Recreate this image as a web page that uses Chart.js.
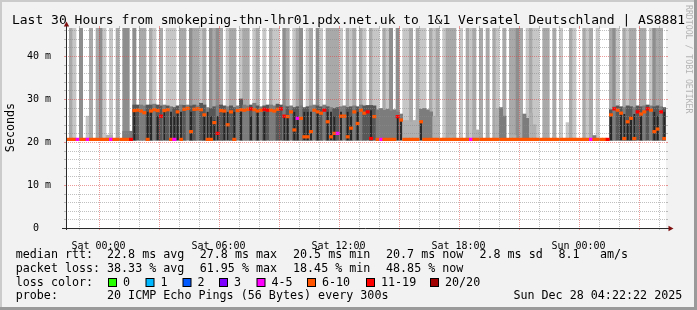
<!DOCTYPE html>
<html>
<head>
<meta charset="utf-8">
<title>SmokePing - 1&amp;1 Versatel Deutschland</title>
<script src="https://cdn.jsdelivr.net/npm/chart.js@4.4.1/dist/chart.umd.min.js"></script>
<style>
  html, body { margin: 0; padding: 0; background: #f2f2f2; }
  #wrap { width: 697px; height: 310px; }
</style>
</head>
<body>
<div id="wrap"><canvas id="smoke" width="697" height="310"></canvas></div>
<script>
/* SmokePing style graph: last 30 hours, one column = 10 minutes */

const BIN_MIN = 10;
const SPAN_H = 30;          // hours on the x axis (Fri 22:22 -> Sun 04:22)
const Y_MAX = 46.5;         // ms at the top of the plot
const SMOKE_LOW = 20.4;     // fastest pings, bottom of the smoke

const tickHours  = [1.627, 7.627, 13.627, 19.627, 25.627];
const tickLabels = ['Sat 00:00', 'Sat 06:00', 'Sat 12:00', 'Sat 18:00', 'Sun 00:00'];
const firstGridHour = 0.627; // Fri 23:00

// outer smoke: tall stripes (50 = past the top of the plot, 0 = none)
const stripeTop = [
  0,50,50,0,50,0,26,50,0,50, 50,50,0,50,0,50,0,50,50,0, 50,0,50,50,0,50,50,0,50,0,
  50,50,50,0,50,50,0,50,50,50, 50,50,0,50,50,50,50,0,50,50, 50,0,50,50,50,0,50,50,0,50,
  0,50,50,50,0,50,50,0,50,50, 50,0,50,50,0,50,50,0,50,50, 50,50,50,0,50,50,50,0,50,50,
  0,50,50,50,0,50,50,50,0,50, 0,50,50,50,0,50,50,50,0,50, 50,50,0,50,50,50,50,0,50,0,
  50,50,50,0,50,0,50,0,50,50, 0,50,0,50,50,50,50,0,50,50, 50,50,0,50,50,0,50,0,50,0,
  24.5,50,50,0,0,50,50,50,0,50, 0,0,0,50,50,50,0,50,50,50, 50,0,50,50,0,50,50,50,50,0
];
// how many pings are up there: 1 few, 2 some, 3 many
const stripeShade = [
  0,2,1,0,3,0,1,2,0,2, 3,1,0,1,0,2,0,3,3,0, 3,0,2,2,0,2,1,0,2,0,
  1,1,1,0,2,2,0,3,2,2, 1,2,0,3,2,3,2,0,1,2, 2,0,1,2,2,0,1,2,0,1,
  0,2,1,1,0,3,2,0,1,2, 3,0,1,2,0,3,1,0,2,2, 2,2,1,0,2,1,2,0,2,1,
  0,2,1,1,0,2,1,3,0,3, 0,1,1,2,0,2,1,1,0,2, 1,2,0,1,2,2,2,0,1,0,
  2,1,2,0,2,0,2,0,2,1, 0,2,0,2,2,3,2,0,1,2, 1,1,0,2,2,0,2,0,1,0,
  1,2,1,0,0,2,1,2,0,1, 0,0,0,2,3,1,0,2,1,2, 2,0,2,2,0,1,3,2,2,0
];
// inner smoke band around the median
const bandTop = [
  0,0,0,0,0,0,0,0,0,0, 0,0,21.6,21.6,0,0,0,22.5,22.5,22.5, 28.6,28.6,28.6,28.4,28.6,28.6,28.8,28.6,28.4,28.6,
  28.4,28.2,28.0,28.4,28.6,28.5,28.6,28.4,28.6,28.4, 29.0,28.6,28.0,27.8,28.2,28.4,28.6,28.4,28.2,28.4, 28.0,28.4,30.0,28.6,28.4,28.6,29.0,28.4,28.2,28.4,
  28.6,28.6,28.4,28.8,28.6,28.4,28.2,28.4,28.0,28.2, 28.4,28.0,28.2,28.4,28.6,28.4,28.2,28.6,28.2,28.0, 27.8,28.0,28.2,28.4,28.0,28.2,28.4,28.2,28.6,28.4,
  28.5,28.5,28.4,27.5,27.8,27.4,27.6,27.2,27.5,27.0, 26.5,25.0,25.0,24.6,25.0,25.2,27.6,27.8,27.5,27.0, 26.0,26.0,0,0,0,21.5,0,0,0,0,
  0,0,22.8,22.8,0,0,0,0,0,27.8, 28.0,26.0,0,21.5,21.5,0,0,26.5,25.5,26.7, 24.0,0,0,0,0,0,21.2,0,0,0,
  0,0,0,0,0,0,0,0,21.5,0, 0,0,0,27.5,28.2,28.4,28.2,28.0,28.4,28.2, 28.0,28.4,28.2,28.4,28.6,28.4,28.2,28.4,28.2,28.0
];
const bandShade = [
  0,0,0,0,0,0,0,0,0,0, 0,0,1,1,0,0,0,2,2,2, 3,3,2,2,3,3,2,3,3,2,
  3,2,3,3,2,3,2,3,3,2, 3,3,2,3,3,2,3,3,2,3, 3,2,3,2,2,3,2,3,2,3,
  3,2,2,3,3,2,3,2,3,3, 2,3,3,2,2,3,3,2,3,2, 3,3,2,2,3,3,2,3,2,3,
  3,3,3,2,2,2,2,2,2,2, 2,1,1,1,1,1,2,2,2,2, 1,1,0,0,0,1,0,0,0,0,
  0,0,1,1,0,0,0,0,0,1, 2,2,0,1,1,0,0,2,2,1, 1,0,0,0,0,0,1,0,0,0,
  0,0,0,0,0,0,0,0,2,0, 0,0,0,3,2,3,3,2,3,3, 2,3,3,2,3,2,3,3,2,3
];
// darkest smoke core where the pings split between the two paths
const coreTop = [
  0,0,0,0,0,0,0,0,0,0, 0,0,0,0,0,0,0,0,0,0, 27.3,0,0,0,27.0,27.0,0,26.0,0,27.0,
  0,27,26,27,27,0,0,27,0,0, 0,26,27,26,25,26,0,27,27,0, 27,0,27,0,0,26,0,27,0,27,
  0,0,0,0,0,26,26,0,27,26, 0,27,27,27,0,27,0,0,27,27, 26,0,27,0,27,26,0,27,0,0,
  0,27.4,0,0,0,0,0,0,0,25.9, 25.0,0,0,0,0,0,24.7,0,0,0, 0,0,0,0,0,0,0,0,0,0,
  0,0,0,0,0,0,0,0,0,0, 0,0,0,0,0,0,0,0,0,0, 0,0,0,0,0,0,0,0,0,0,
  0,0,0,0,0,0,0,0,0,0, 0,0,0,26,0,0,26.5,26.5,25,26, 26.5,0,26,0,0,0,27,26,0,27
];
// median rtt in ms
const median = [
  20.6,20.6,20.6,20.6,20.6,20.6,20.6,20.6,20.6,20.6, 20.6,20.6,20.6,20.6,20.6,20.6,20.6,20.6,20.6,20.6, 27.3,27.4,27.2,26.8,20.6,27.2,27.5,27.3,26.0,27.3,
  27.5,20.6,20.6,27.0,20.6,27.6,27.8,22.4,27.6,27.7, 27.5,26.3,20.6,20.6,24.5,22.0,27.3,27.2,24.0,27.0, 20.6,27.3,27.5,27.4,27.6,27.7,27.5,27.2,27.4,27.6,
  27.4,27.4,27.2,27.6,27.7,26.0,25.9,27.0,22.8,25.5, 25.5,21.2,21.2,22.4,27.4,27.0,26.7,27.4,24.7,21.2, 22.0,22.0,26.0,26.0,21.2,23.2,27.0,24.3,27.4,26.7,
  27.0,20.8,25.9,20.6,20.6,20.6,20.6,20.6,20.6,25.9, 25.1,20.6,20.6,20.6,20.6,20.6,24.7,20.6,20.6,20.6, 20.6,20.6,20.6,20.6,20.6,20.6,20.6,20.6,20.6,20.6,
  20.6,20.6,20.6,20.6,20.6,20.6,20.6,20.6,20.6,20.6, 20.6,20.6,20.6,20.6,20.6,20.6,20.6,20.6,20.6,20.6, 20.6,20.6,20.6,20.6,20.6,20.6,20.6,20.6,20.6,20.6,
  20.6,20.6,20.6,20.6,20.6,20.6,20.6,20.6,20.6,20.6, 20.6,20.6,20.6,26.3,27.7,27.4,26.7,20.8,24.7,25.5, 20.8,27.0,26.5,27.0,27.7,27.4,22.4,23.0,27.0,20.8
];
// loss bucket per column (index into lossLabels)
const loss = [
  5,5,5,4,5,5,4,5,5,5, 5,5,5,4,5,5,5,5,5,6, 5,5,5,5,5,5,5,5,6,5,
  5,5,4,5,5,5,5,5,5,5, 5,5,5,5,5,6,5,5,5,5, 5,5,5,5,5,6,5,5,5,6,
  6,5,5,5,6,6,5,5,5,4, 5,5,5,5,5,5,5,6,5,5, 5,4,5,5,5,5,5,5,5,5,
  6,6,5,5,4,5,5,5,5,6, 5,5,5,5,5,5,5,5,5,5, 5,5,5,5,5,5,5,5,5,5,
  5,4,5,5,5,5,5,5,5,5, 5,5,5,5,5,5,5,5,5,5, 5,5,5,5,5,5,5,5,5,5,
  5,5,5,5,5,5,5,4,5,5, 5,5,6,5,6,5,5,5,5,5, 5,6,5,5,6,5,5,5,6,5
];

const lossLabels = ['0', '1', '2', '3', '4-5', '6-10', '11-19', '20/20'];
const lossColors = ['#26ff00', '#00b8ff', '#0059ff', '#7e00ff', '#ff00ff', '#ff5500', '#ff0000', '#a00000'];

const rttStats  = ['22.8 ms avg', '27.8 ms max', '20.5 ms min', '20.7 ms now', '2.8 ms sd', '8.1', 'am/s'];
const lossStats = ['38.33 % avg', '61.95 % max', '18.45 % min', '48.85 % now'];
const probeText = '20 ICMP Echo Pings (56 Bytes) every 300s';
const stampText = 'Sun Dec 28 04:22:22 2025';
const titleText = 'Last 30 Hours from smokeping-thn-lhr01.pdx.net.uk to 1&1 Versatel Deutschland | AS8881';

const STRIPE_GREYS = [null, '#c6c6c6', '#a9a9a9', '#8e8e8e'];
const BAND_GREYS   = [null, '#b0b0b0', '#7c7c7c', '#575757'];
const CORE_GREY    = '#242424';
const MONO = '"DejaVu Sans Mono", "Liberation Mono", monospace';

const binHour = median.map((_, i) => (i * BIN_MIN + BIN_MIN / 2) / 60);

function rangeBars(label, tops, colorOf, order, widthShare) {
  return {
    label,
    order,
    data: binHour.map((x, i) => ({ x, y: tops[i] ? [SMOKE_LOW, tops[i]] : null })),
    backgroundColor: tops.map((_, i) => colorOf(i)),
    borderWidth: 0,
    grouped: false,
    barPercentage: widthShare,
    categoryPercentage: 1
  };
}

const datasets = [
  rangeBars('smoke', stripeTop, i => STRIPE_GREYS[stripeShade[i]] || 'rgba(0,0,0,0)', 4, 1),
  rangeBars('band', bandTop, i => BAND_GREYS[bandShade[i]] || 'rgba(0,0,0,0)', 3, 1),
  rangeBars('core', coreTop, () => CORE_GREY, 2, 0.55),
  {
    label: 'median rtt',
    order: 1,
    data: binHour.map((x, i) => ({ x, y: [median[i] - 0.3, median[i] + 0.3] })),
    backgroundColor: loss.map(l => lossColors[l]),
    borderWidth: 0,
    grouped: false,
    barPercentage: 1,
    categoryPercentage: 1
  }
];

// rrdtool look: frame, dotted grid on top of the data, arrows, legend block
const rrdLook = {
  id: 'rrdLook',
  beforeDraw(chart) {
    const { ctx, chartArea: a, width, height } = chart;
    ctx.save();
    ctx.fillStyle = '#f2f2f2';
    ctx.fillRect(0, 0, width, height);
    ctx.fillStyle = '#cbcbcb';
    ctx.fillRect(0, 0, width, 2);
    ctx.fillRect(0, 0, 2, height);
    ctx.fillStyle = '#9a9a9a';
    ctx.fillRect(0, height - 3, width, 3);
    ctx.fillRect(width - 3, 0, 3, height);
    ctx.fillStyle = '#ffffff';
    ctx.fillRect(a.left, a.top, a.right - a.left, a.bottom - a.top);
    ctx.restore();
  },
  afterDatasetsDraw(chart) {
    const { ctx, chartArea: a } = chart;
    const xs = chart.scales.x, ys = chart.scales.y;
    const minorC = 'rgba(140,140,140,0.55)';
    const majorC = 'rgba(220,70,70,0.55)';
    ctx.save();
    ctx.lineWidth = 1;

    // vertical grid, every hour, red every 3 hours
    for (let k = 0; firstGridHour + k < SPAN_H; k++) {
      const px = Math.round(xs.getPixelForValue(firstGridHour + k)) + 0.5;
      const col = (k % 3 === 1) ? majorC : minorC;
      ctx.strokeStyle = col;
      ctx.setLineDash([1, 1]);
      ctx.beginPath(); ctx.moveTo(px, a.top); ctx.lineTo(px, a.bottom); ctx.stroke();
      ctx.setLineDash([]);
      ctx.beginPath();
      ctx.moveTo(px, a.top - 2); ctx.lineTo(px, a.top);
      ctx.moveTo(px, a.bottom); ctx.lineTo(px, a.bottom + 2);
      ctx.stroke();
    }
    // horizontal grid, every 2 ms, red every 10 ms
    for (let v = 2; v < Y_MAX; v += 2) {
      const py = Math.round(ys.getPixelForValue(v)) + 0.5;
      ctx.strokeStyle = (v % 10 === 0) ? majorC : minorC;
      ctx.setLineDash([1, 1]);
      ctx.beginPath(); ctx.moveTo(a.left, py); ctx.lineTo(a.right, py); ctx.stroke();
      ctx.setLineDash([]);
      ctx.beginPath();
      ctx.moveTo(a.left - 2, py); ctx.lineTo(a.left, py);
      ctx.moveTo(a.right, py); ctx.lineTo(a.right + 2, py);
      ctx.stroke();
    }

    // axes
    const ax = a.left + 0.5, ay = Math.round(a.bottom) + 0.5;
    ctx.strokeStyle = '#2a2a2a';
    ctx.beginPath();
    ctx.moveTo(a.left - 4, ay); ctx.lineTo(a.right + 3, ay);
    ctx.moveTo(ax, a.bottom + 2); ctx.lineTo(ax, a.top - 2);
    ctx.stroke();
    ctx.fillStyle = '#7f1010';
    ctx.beginPath();
    ctx.moveTo(ax - 2.7, a.top - 1.5); ctx.lineTo(ax + 2.7, a.top - 1.5); ctx.lineTo(ax, a.top - 6.5);
    ctx.closePath(); ctx.fill();
    ctx.beginPath();
    ctx.moveTo(a.right + 2.5, ay - 2.7); ctx.lineTo(a.right + 2.5, ay + 2.7); ctx.lineTo(a.right + 7.5, ay);
    ctx.closePath(); ctx.fill();
    ctx.restore();
  },
  afterDraw(chart) {
    const { ctx } = chart;
    ctx.save();
    ctx.fillStyle = '#000';
    ctx.textBaseline = 'alphabetic';

    ctx.font = '13px ' + MONO;
    ctx.textAlign = 'center';
    ctx.fillText(titleText, 348.5, 24);

    // y axis title
    ctx.font = '11.7px ' + MONO;
    ctx.save();
    ctx.translate(10.5, 127.5);
    ctx.rotate(-Math.PI / 2);
    ctx.textBaseline = 'middle';
    ctx.fillText('Seconds', 0, 0);
    ctx.restore();

    // watermark
    ctx.save();
    ctx.translate(688, 5);
    ctx.rotate(Math.PI / 2);
    ctx.font = '8.2px ' + MONO;
    ctx.fillStyle = '#b4b4b4';
    ctx.textAlign = 'left';
    ctx.textBaseline = 'middle';
    ctx.fillText('RRDTOOL / TOBI OETIKER', 0, 0);
    ctx.restore();

    // legend block
    ctx.font = '11.7px ' + MONO;
    ctx.textAlign = 'left';
    const colX = [107, 199.7, 293, 386, 479.4, 558.4, 600];
    ctx.fillText('median rtt:', 15.7, 258);
    rttStats.forEach((s, i) => ctx.fillText(s, colX[i], 258));
    ctx.fillText('packet loss:', 15.7, 271.8);
    lossStats.forEach((s, i) => ctx.fillText(s, colX[i], 271.8));
    ctx.fillText('loss color:', 15.7, 285.6);
    const boxX = [108, 145.5, 182.5, 219, 256.5, 307, 366, 430];
    lossLabels.forEach((lab, i) => {
      ctx.fillStyle = '#000';
      ctx.fillRect(boxX[i], 278, 9, 9);
      ctx.fillStyle = lossColors[i];
      ctx.fillRect(boxX[i] + 1, 279, 7, 7);
      ctx.fillStyle = '#000';
      ctx.fillText(lab, boxX[i] + 15, 285.6);
    });
    ctx.fillText('probe:', 15.7, 299.4);
    ctx.fillText(probeText, 107, 299.4);
    ctx.fillText(stampText, 513.4, 299.4);
    ctx.restore();
  }
};

const tickFont = { family: MONO, size: 10 };

new Chart(document.getElementById('smoke'), {
  type: 'bar',
  data: { datasets },
  plugins: [rrdLook],
  options: {
    responsive: false,
    animation: false,
    devicePixelRatio: 1,
    layout: { padding: { left: 0, top: 28, right: 31, bottom: 0 } },
    plugins: {
      legend: { display: false },
      tooltip: { enabled: false },
      title: { display: false }
    },
    scales: {
      x: {
        type: 'linear',
        min: 0,
        max: SPAN_H,
        offset: false,
        grid: { display: false },
        border: { display: false },
        afterFit: s => { s.height = 82; },
        afterBuildTicks: s => { s.ticks = tickHours.map(v => ({ value: v })); },
        ticks: {
          autoSkip: false,
          maxRotation: 0,
          padding: 4,
          color: '#000',
          font: tickFont,
          callback: (v, i) => tickLabels[i]
        }
      },
      y: {
        min: 0,
        max: Y_MAX,
        grid: { display: false },
        border: { display: false },
        afterFit: s => { s.width = 66; },
        ticks: {
          stepSize: 10,
          includeBounds: false,
          padding: 7,
          color: '#000',
          font: tickFont,
          callback: v => (v === 0 ? '0  ' : v + ' m')
        }
      }
    }
  }
});
</script>
</body>
</html>
